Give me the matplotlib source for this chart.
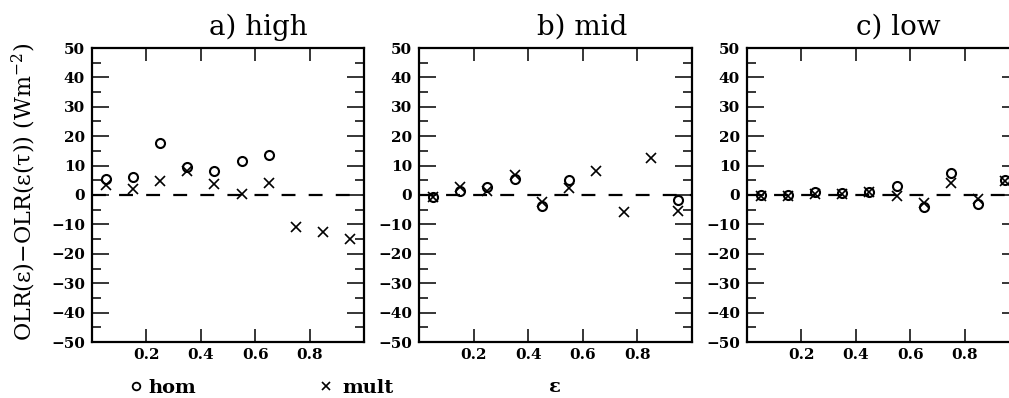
import numpy as np
import matplotlib
matplotlib.use("Agg")
import matplotlib.pyplot as plt
from matplotlib.lines import Line2D

plt.rcParams['font.family'] = ['DejaVu Serif']
plt.rcParams['mathtext.fontset'] = 'dejavuserif'
plt.rcParams['lines.scale_dashes'] = False

# ---------------- data ----------------
eps = [0.05, 0.15, 0.25, 0.35, 0.45, 0.55, 0.65, 0.75, 0.85, 0.95]
nan = np.nan
hom_high = [5.4, 6.0, 17.6, 9.5, 8.3, 11.7, 13.6, nan, nan, nan]
mult_high = [3.4, 2.0, 4.9, 8.0, 3.7, 0.3, 4.2, -10.8, -12.5, -15.1]
hom_mid = [-0.6, 1.5, 2.8, 5.6, -3.7, 5.1, nan, nan, nan, -1.7]
mult_mid = [-0.6, 2.8, 1.5, 6.8, -2.3, 2.3, 8.3, -5.7, 12.5, -5.3]
hom_low = [0.0, 0.0, 1.1, 0.6, 1.1, 3.1, -4.2, 7.6, -3.1, 5.1]
mult_low = [-0.3, -0.3, 0.2, 0.4, 0.9, -0.3, -2.6, 4.0, -1.5, 4.8]

titles = ["a) high", "b) mid", "c) low"]
xticks = [0.2, 0.4, 0.6, 0.8]
xticklabels = ["0.2", "0.4", "0.6", "0.8"]
yticks = [50, 40, 30, 20, 10, 0, -10, -20, -30, -40, -50]
ylabel = "OLR(ε)−OLR(ε(τ)) (Wm$^{-2}$)"
xlabel = "ε"
legend_labels = ["hom", "mult"]

W, H = 1009, 398
fig = plt.figure(figsize=(W / 100, H / 100), dpi=100)

panels = [(92, 364, hom_high, mult_high, 209),
          (419, 692, hom_mid, mult_mid, 537),
          (747, 1019, hom_low, mult_low, 856)]
ytop, ybot = 48, 342

for i, (x0, x1, hom, mult, tx) in enumerate(panels):
    ax = fig.add_axes([x0 / W, 1 - ybot / H, (x1 - x0) / W, (ybot - ytop) / H])
    ax.set_xlim(0, 1)
    ax.set_ylim(-50, 50)
    ax.axhline(0, color='black', lw=1.6, linestyle=(0, (10, 9.5)), zorder=1)
    ax.plot(eps, hom, linestyle='none', marker='o', ms=6.5, mfc='none',
            mec='black', mew=1.5, zorder=3)
    ax.plot(eps, mult, linestyle='none', marker='x', ms=6.5,
            mec='black', mew=1.2, zorder=3)
    for s in ax.spines.values():
        s.set_linewidth(1.6)
    ax.set_xticks(xticks)
    ax.set_xticklabels(xticklabels, fontsize=11, fontweight='bold')
    ax.set_yticks(yticks)
    ax.set_yticklabels([f"{v:d}".replace('-', '\u2212') for v in yticks],
                       fontsize=11, fontweight='bold')
    ax.set_yticks(np.arange(-45, 50, 10), minor=True)
    ax.tick_params(axis='x', which='major', direction='in', top=True, bottom=True,
                   length=9.5, width=1.1, pad=4)
    ax.tick_params(axis='y', which='major', direction='in', left=True, right=True,
                   length=12, width=1.1, pad=5)
    ax.tick_params(axis='y', which='minor', direction='in', left=True, right=True,
                   length=6.5, width=1.1)
    fig.text(tx / W, 1 - 35 / H, titles[i], fontsize=20, ha='left', va='baseline')

fig.text(24 / W, 1 - 192 / H, ylabel, rotation=90, fontsize=16,
         ha='center', va='center')
fig.text(555 / W, 1 - 392 / H, xlabel, fontsize=14, fontweight='bold',
         ha='center', va='baseline')

# bottom legend
fig.add_artist(Line2D([136 / W], [1 - 386 / H], marker='o', ms=5.5, mfc='none',
                      mec='black', mew=1.3, linestyle='none'))
fig.text(148 / W, 1 - 393 / H, legend_labels[0], fontsize=14, fontweight='bold',
         ha='left', va='baseline')
fig.add_artist(Line2D([326 / W], [1 - 386 / H], marker='x', ms=5.5,
                      mec='black', mew=1.2, linestyle='none'))
fig.text(342 / W, 1 - 393 / H, legend_labels[1], fontsize=14, fontweight='bold',
         ha='left', va='baseline')

fig.savefig("out.png", dpi=100)
